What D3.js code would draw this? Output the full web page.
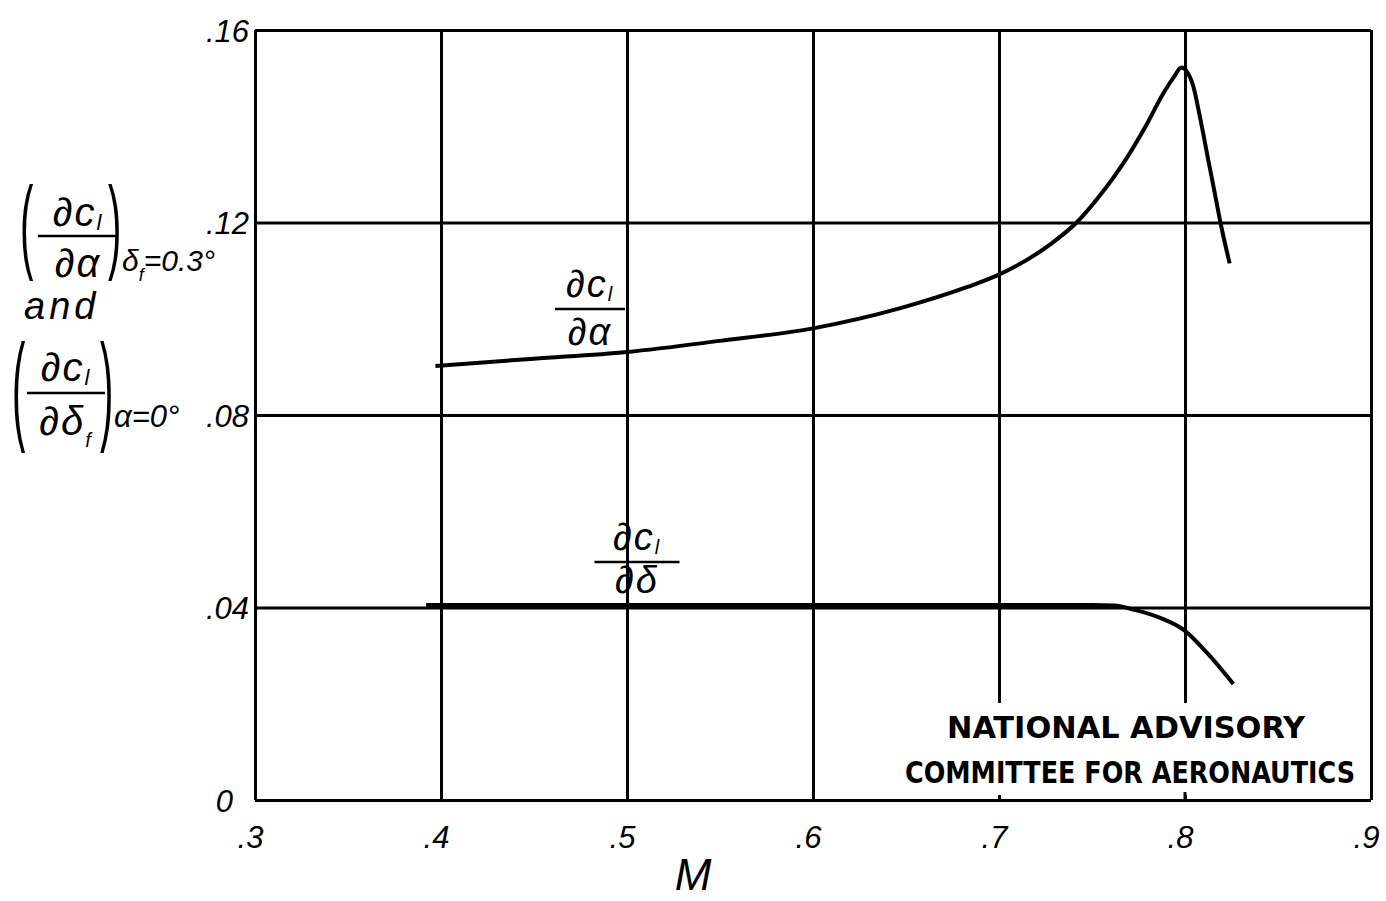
<!DOCTYPE html>
<html>
<head>
<meta charset="utf-8">
<script src="https://cdn.jsdelivr.net/npm/d3@7"></script>
<style>
  body { margin: 0; background: #fff; }
  text { font-family: 'Liberation Sans', Arial, sans-serif; fill: #000; }
</style>
</head>
<body>
<svg id="chart" width="1386" height="901"></svg>
<script>
// tick values
const xTicks = [0.3, 0.4, 0.5, 0.6, 0.7, 0.8, 0.9];
const yTicks = [0, 0.04, 0.08, 0.12, 0.16];

// dCl/dalpha curve
const machAlpha = [0.397, 0.45, 0.50, 0.55, 0.60, 0.647, 0.683, 0.699, 0.727, 0.742, 0.754, 0.769, 0.779, 0.788, 0.794, 0.798, 0.804, 0.808, 0.8125, 0.816, 0.819, 0.824];
const slopeAlpha = [0.0902, 0.0917, 0.0931, 0.0954, 0.0980, 0.1022, 0.1066, 0.1090, 0.1153, 0.1201, 0.1255, 0.1336, 0.1401, 0.1466, 0.1502, 0.1522, 0.1489, 0.1420, 0.1330, 0.1261, 0.1201, 0.1115];

// dCl/ddelta curve
const machDelta = [0.392, 0.45, 0.50, 0.60, 0.70, 0.75, 0.762, 0.773, 0.787, 0.7995, 0.812, 0.826];
const slopeDelta = [0.0405, 0.0405, 0.0405, 0.0405, 0.0405, 0.0405, 0.0404, 0.0395, 0.0378, 0.0353, 0.0305, 0.0241];

const margin = {top: 30, right: 15, bottom: 101, left: 255};
const width = 1386 - margin.left - margin.right;
const height = 901 - margin.top - margin.bottom;

const svg = d3.select("#chart");
const g = svg.append("g")
  .attr("transform", "translate(" + margin.left + "," + margin.top + ")");

const x = d3.scaleLinear().domain([0.3, 0.9]).range([0, width]);
const y = d3.scaleLinear().domain([0, 0.16]).range([height, 0]);

const labelFont = "italic 31px 'Liberation Sans', Arial, sans-serif";

// X grid + labels
const xAxis = g.append("g")
  .attr("transform", "translate(0," + height + ")")
  .call(d3.axisBottom(x)
    .tickValues(xTicks)
    .tickSize(-height)
    .tickPadding(0)
    .tickFormat(d => d3.format(".1f")(d).replace(/^0/, "")));
xAxis.select(".domain").remove();
xAxis.selectAll("line").attr("stroke", "#000").attr("stroke-width", 3);
xAxis.selectAll("text")
  .attr("y", 48).attr("dy", null).attr("dx", -5)
  .style("font", labelFont);

// Y grid + labels
const yAxis = g.append("g")
  .call(d3.axisLeft(y)
    .tickValues(yTicks)
    .tickSize(-width)
    .tickPadding(6)
    .tickFormat(d => d === 0 ? "0" : d3.format(".2f")(d).replace(/^0/, "")));
yAxis.select(".domain").remove();
yAxis.selectAll("line").attr("stroke", "#000").attr("stroke-width", 3);
yAxis.selectAll("text")
  .attr("dy", "0.36em")
  .style("font", labelFont);
yAxis.selectAll("text").filter(d => d === 0).attr("dx", -16);

// white box behind the NACA stamp (grid lines stop above it)
g.append("rect")
  .attr("x", x(0.7) - 100).attr("y", 673)
  .attr("width", x(0.9) - x(0.7) + 98).attr("height", 92)
  .attr("fill", "#fff");
g.append("line")
  .attr("x1", x(0.8)).attr("x2", x(0.8))
  .attr("y1", height - 8).attr("y2", height)
  .attr("stroke", "#000").attr("stroke-width", 3);

// curves
const line = d3.line()
  .x(d => x(d[0]))
  .y(d => y(d[1]))
  .curve(d3.curveMonotoneX);

g.append("path")
  .datum(d3.zip(machAlpha, slopeAlpha))
  .attr("d", line)
  .attr("fill", "none")
  .attr("stroke", "#000")
  .attr("stroke-width", 4)
  .attr("stroke-linejoin", "round");

g.append("path")
  .datum(d3.zip(machDelta, slopeDelta))
  .attr("d", line)
  .attr("fill", "none")
  .attr("stroke", "#000")
  .attr("stroke-width", 4)
  .attr("stroke-linejoin", "round");

// curve labels (fractions)
function fraction(cx, numY, barY, denY, barW, numParts, denParts, size) {
  const num = svg.append("text")
    .attr("x", cx).attr("y", numY)
    .attr("text-anchor", "middle")
    .style("font-size", size + "px").style("font-style", "italic")
    .style("letter-spacing", "2px");
  numParts.forEach(p => num.append("tspan").text(p[0])
    .attr("dy", p[1] || 0).style("font-size", p[2] ? p[2] + "px" : null));
  svg.append("line")
    .attr("x1", cx - barW / 2).attr("x2", cx + barW / 2)
    .attr("y1", barY).attr("y2", barY)
    .attr("stroke", "#000").attr("stroke-width", 2.5);
  const den = svg.append("text")
    .attr("x", cx).attr("y", denY)
    .attr("text-anchor", "middle")
    .style("font-size", size + "px").style("font-style", "italic")
    .style("letter-spacing", "2px");
  denParts.forEach(p => den.append("tspan").text(p[0])
    .attr("dy", p[1] || 0).style("font-size", p[2] ? p[2] + "px" : null));
}

fraction(590, 297, 309, 345, 70, [["∂c"], ["l", 4, 20]], [["∂α"]], 38);
fraction(637, 550, 562, 593, 85, [["∂c"], ["l", 4, 20]], [["∂δ"]], 38);

// Y axis title
function paren(ch, px, top, scaleY) {
  svg.append("text")
    .attr("transform", "translate(" + px + "," + (top + 0.73 * 40 * scaleY) + ") scale(1," + scaleY + ")")
    .style("font-size", "40px")
    .text(ch);
}

// block 1
paren("(", 20, 183, 2.6);
paren(")", 108, 183, 2.6);
fraction(78, 226, 236, 277, 80, [["∂c"], ["l", 4, 22]], [["∂α"]], 40);
const sub1 = svg.append("text").attr("x", 122).attr("y", 271)
  .style("font-size", "30px").style("font-style", "italic");
sub1.append("tspan").text("δ");
sub1.append("tspan").text("f").attr("dy", 10).style("font-size", "18px");
sub1.append("tspan").text("=0.3°").attr("dy", -10);
svg.append("text").attr("x", 24).attr("y", 319)
  .style("font-size", "38px").style("font-style", "italic")
  .style("letter-spacing", "4px")
  .text("and");

// block 2
paren("(", 12, 340, 3.0);
paren(")", 100, 340, 3.0);
fraction(66, 381, 393, 435, 78, [["∂c"], ["l", 4, 22]], [["∂δ"], ["f", 12, 20]], 40);
svg.append("text").attr("x", 114).attr("y", 427)
  .style("font-size", "31px").style("font-style", "italic")
  .text("α=0°");

// X axis title
svg.append("text")
  .attr("x", 693).attr("y", 890)
  .attr("text-anchor", "middle")
  .style("font-size", "44px").style("font-style", "italic")
  .text("M");

// NACA stamp
const stampFont = "'Liberation Sans Narrow', 'DejaVu Sans Condensed', sans-serif";
svg.append("text")
  .attr("x", 947).attr("y", 738)
  .attr("textLength", 358).attr("lengthAdjust", "spacingAndGlyphs")
  .style("font-family", stampFont).style("font-weight", "bold").style("font-size", "30px")
  .text("NATIONAL ADVISORY");
svg.append("text")
  .attr("x", 905).attr("y", 783)
  .attr("textLength", 450).attr("lengthAdjust", "spacingAndGlyphs")
  .style("font-family", stampFont).style("font-weight", "bold").style("font-size", "30px")
  .text("COMMITTEE FOR AERONAUTICS");
</script>
</body>
</html>
